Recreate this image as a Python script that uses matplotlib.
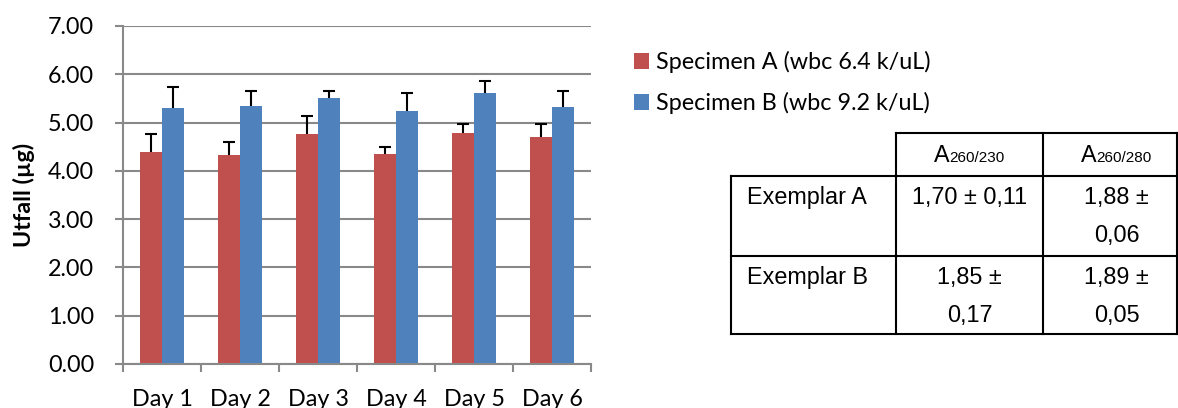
import numpy as np
import matplotlib
matplotlib.use("Agg")
import matplotlib.pyplot as plt
from matplotlib.offsetbox import TextArea, HPacker, AnnotationBbox

## Data
days = ["Day 1", "Day 2", "Day 3", "Day 4", "Day 5", "Day 6"]
specimen_a = [4.40, 4.33, 4.76, 4.35, 4.78, 4.70]
specimen_a_err = [0.36, 0.26, 0.38, 0.15, 0.20, 0.28]
specimen_b = [5.30, 5.34, 5.50, 5.25, 5.61, 5.32]
specimen_b_err = [0.43, 0.31, 0.15, 0.36, 0.25, 0.33]
series_labels = ["Specimen A (wbc 6.4 k/uL)", "Specimen B (wbc 9.2 k/uL)"]

table_head = ["260/230", "260/280"]
table_rows = ["Exemplar A", "Exemplar B"]
table_cells = [["1,70 ± 0,11", "1,88 ±\n0,06"],
               ["1,85 ±\n0,17", "1,89 ±\n0,05"]]

## Style
red = "#C0504D"
blue = "#4F81BD"
grid_grey = "#898989"
chart_font = "Lato"
table_font = "Liberation Sans"
fs = 16.8

W, H = 1178, 408
fig = plt.figure(figsize=(W / 100, H / 100), dpi=100)


def px_box(x0, y0, x1, y1):
    return [x0 / W, 1 - y1 / H, (x1 - x0) / W, (y1 - y0) / H]


## Bar chart
ax = fig.add_axes(px_box(123, 26, 591, 364))
x = np.arange(len(days))
bw = 0.282
for xs, vals, errs, col, lab in [(x - bw / 2, specimen_a, specimen_a_err, red, series_labels[0]),
                                 (x + bw / 2, specimen_b, specimen_b_err, blue, series_labels[1])]:
    ax.bar(xs, vals, bw, color=col, label=lab, zorder=2)
    # upper error bars only, cap only at the top
    ax.errorbar(xs, vals, yerr=[np.zeros(len(vals)), errs], fmt="none",
                ecolor="black", elinewidth=1.5, capsize=0, zorder=3)
    ax.plot(xs, np.array(vals) + np.array(errs), ls="none", marker="_",
            ms=8.6, mew=1.5, color="black", zorder=3)

ax.set_xlim(-0.5, len(days) - 0.5)
ax.set_ylim(0, 7)
ax.set_yticks(np.arange(0, 8, 1))
ax.set_yticklabels(["{:.2f}".format(v) for v in np.arange(0, 8, 1)],
                   family=chart_font, fontsize=fs)
ax.yaxis.grid(True, color=grid_grey, linewidth=1.5)
ax.set_axisbelow(True)

ax.set_xticks(np.arange(-0.5, len(days), 1))
ax.set_xticklabels([])
ax.set_xticks(x, minor=True)
ax.set_xticklabels(days, minor=True, family=chart_font, fontsize=fs)
ax.tick_params(axis="x", which="major", length=5.8, width=1.5, color=grid_grey)
ax.tick_params(axis="x", which="minor", length=0, pad=18)
ax.tick_params(axis="y", length=5.8, width=1.5, color=grid_grey, pad=15)

for side in ["top", "right"]:
    ax.spines[side].set_visible(False)
for side in ["left", "bottom"]:
    ax.spines[side].set_color(grid_grey)
    ax.spines[side].set_linewidth(1.5)

fig.text(24 / W, 1 - 195 / H, "Utfall (µg)", rotation=90, ha="center", va="center",
         family=chart_font, fontsize=fs, fontweight="bold")

fig.legend(loc="upper left", bbox_to_anchor=(634 / W, 1 - 51 / H), frameon=False,
           prop=dict(family=chart_font, size=fs), handlelength=0.64, handleheight=0.64,
           handletextpad=0.3, labelspacing=0.81, borderpad=0, borderaxespad=0)

## Table
col_w = [165, 147, 147]
row_h = [43, 80, 78]
col_edges = np.concatenate([[0], np.cumsum(col_w)])
row_edges = np.concatenate([[0], np.cumsum(row_h)])
right_edge = min(col_edges[-1], W - 1.5 - 731)

tab = fig.add_axes(px_box(731, 133, W, 334))
tab.set_xlim(0, W - 731)
tab.set_ylim(row_edges[-1], 0)
tab.axis("off")
line = dict(color="black", linewidth=1.5, clip_on=False, solid_capstyle="projecting")

# horizontal borders
tab.plot([col_edges[1], right_edge], [0, 0], **line)
for y in row_edges[1:]:
    tab.plot([0, right_edge], [y, y], **line)
# vertical borders
tab.plot([0, 0], [row_edges[1], row_edges[-1]], **line)
for xe in list(col_edges[1:-1]) + [right_edge]:
    tab.plot([xe, xe], [0, row_edges[-1]], **line)

col_centers = (col_edges[:-1] + col_edges[1:]) / 2
baseline_off = 28
line_step = 38

# header cells
for j, sub in enumerate(table_head):
    pack = HPacker(children=[TextArea("A", textprops=dict(family=table_font, size=fs)),
                             TextArea(sub, textprops=dict(family=table_font, size=11))],
                   align="baseline", pad=0, sep=0)
    ab = AnnotationBbox(pack, (col_centers[j + 1], row_edges[0] + row_h[0] / 2 + 1),
                        xycoords=tab.transData, frameon=False, box_alignment=(0.5, 0.5),
                        annotation_clip=False)
    tab.add_artist(ab)

# body cells
for i, name in enumerate(table_rows):
    top = row_edges[i + 1]
    tab.text(16, top + baseline_off, name, ha="left", va="baseline",
             family=table_font, fontsize=fs)
    for j, cell in enumerate(table_cells[i]):
        for k, part in enumerate(cell.split("\n")):
            tab.text(col_centers[j + 1], top + baseline_off + k * line_step, part,
                     ha="center", va="baseline", family=table_font, fontsize=fs)

fig.savefig("out.png", dpi=100)
